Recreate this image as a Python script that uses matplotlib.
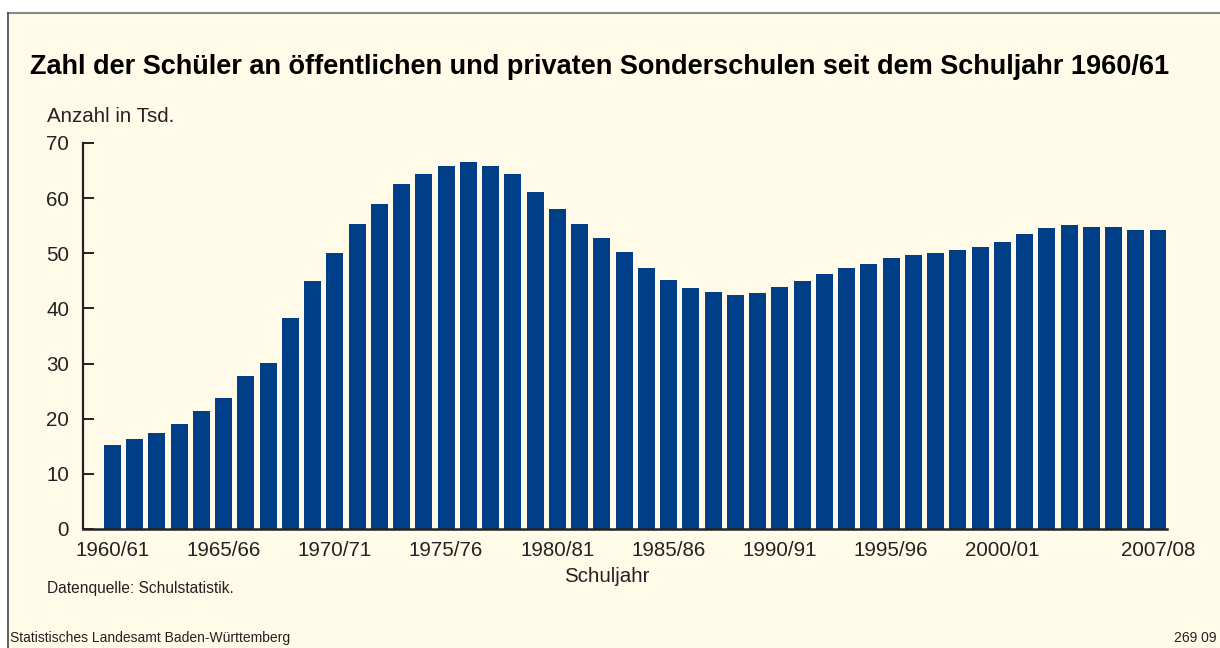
import matplotlib
matplotlib.use('Agg')
import matplotlib.pyplot as plt
from matplotlib.patches import Rectangle
from matplotlib.lines import Line2D

# Schuljahre 1960/61 .. 2007/08
jahre = [f"{y}/{str(y + 1)[-2:]}" for y in range(1960, 2008)]
schueler_tsd = [
    15.2, 16.3, 17.4, 19.0, 21.4, 23.7, 27.7, 30.1, 38.2, 44.9,
    50.0, 55.3, 58.9, 62.5, 64.3, 65.8, 66.5, 65.9, 64.3, 61.2,
    58.0, 55.3, 52.7, 50.2, 47.3, 45.1, 43.7, 42.9, 42.4, 42.8,
    43.8, 44.9, 46.2, 47.3, 48.0, 49.1, 49.6, 50.0, 50.6, 51.1,
    52.0, 53.5, 54.5, 55.1, 54.7, 54.7, 54.2, 54.2,
]
label_jahre = ["1960/61", "1965/66", "1970/71", "1975/76", "1980/81",
               "1985/86", "1990/91", "1995/96", "2000/01", "2007/08"]
y_ticks = [0, 10, 20, 30, 40, 50, 60, 70]

bg = "#fffbe8"
bar_col = "#003f87"
txt = "#222222"
plt.rcParams['font.family'] = ['Liberation Sans', 'DejaVu Sans']

W, H = 1220, 648
fig = plt.figure(figsize=(W / 100, H / 100), dpi=100, facecolor="white")

# cream panel with frame lines (behind the axes)
fig.patches.append(Rectangle((8 / W, 0), 1, (H - 13) / H, transform=fig.transFigure,
                             facecolor=bg, edgecolor="none", zorder=-10))
fig.lines.append(Line2D([8 / W, 1], [(H - 13) / H] * 2, transform=fig.transFigure,
                        color="#8a8a8a", lw=1.5, zorder=-5))
fig.lines.append(Line2D([8 / W] * 2, [0, (H - 13) / H], transform=fig.transFigure,
                        color="#444444", lw=1.2, zorder=-5))

ax = fig.add_axes([83 / W, (H - 529) / H, 1083.5 / W, 386 / H])
ax.set_facecolor(bg)
x = list(range(len(jahre)))
ax.bar(x, schueler_tsd, width=0.76, color=bar_col, zorder=2)
ax.set_xlim(-1.32, len(jahre) - 0.62)
ax.set_ylim(0, 70)

ax.spines['top'].set_visible(False)
ax.spines['right'].set_visible(False)
ax.spines['left'].set_linewidth(1.6)
ax.spines['bottom'].set_linewidth(1.8)
ax.spines['left'].set_color(txt)
ax.spines['bottom'].set_color(txt)

ax.set_yticks(y_ticks)
ax.set_yticklabels([str(v) for v in y_ticks], fontsize=14.8, color=txt)
ax.tick_params(axis='y', direction='in', length=8, width=1.4, color=txt, pad=10)
ax.set_xticks([jahre.index(l) for l in label_jahre])
ax.set_xticklabels(label_jahre, fontsize=14.8, color=txt)
ax.tick_params(axis='x', length=0, pad=9)

fig.text(30 / W, 1 - 67 / H,
         "Zahl der Schüler an öffentlichen und privaten Sonderschulen seit dem Schuljahr 1960/61",
         fontsize=19.5, fontweight='bold', color="black", va='center', ha='left')
fig.text(47 / W, 1 - 117 / H, "Anzahl in Tsd.", fontsize=14.8, color=txt, va='center')
fig.text(607 / W, 1 - 577 / H, "Schuljahr", fontsize=14.8, color=txt, va='center', ha='center')
fig.text(47 / W, 1 - 588 / H, "Datenquelle: Schulstatistik.", fontsize=11.2, color=txt, va='center')
fig.text(10 / W, 1 - 638 / H, "Statistisches Landesamt Baden-Württemberg", fontsize=10,
         color=txt, va='center')
fig.text(1216 / W, 1 - 638 / H, "269 09", fontsize=10, color=txt, va='center', ha='right')

fig.savefig("out.png", dpi=100, facecolor=fig.get_facecolor())
